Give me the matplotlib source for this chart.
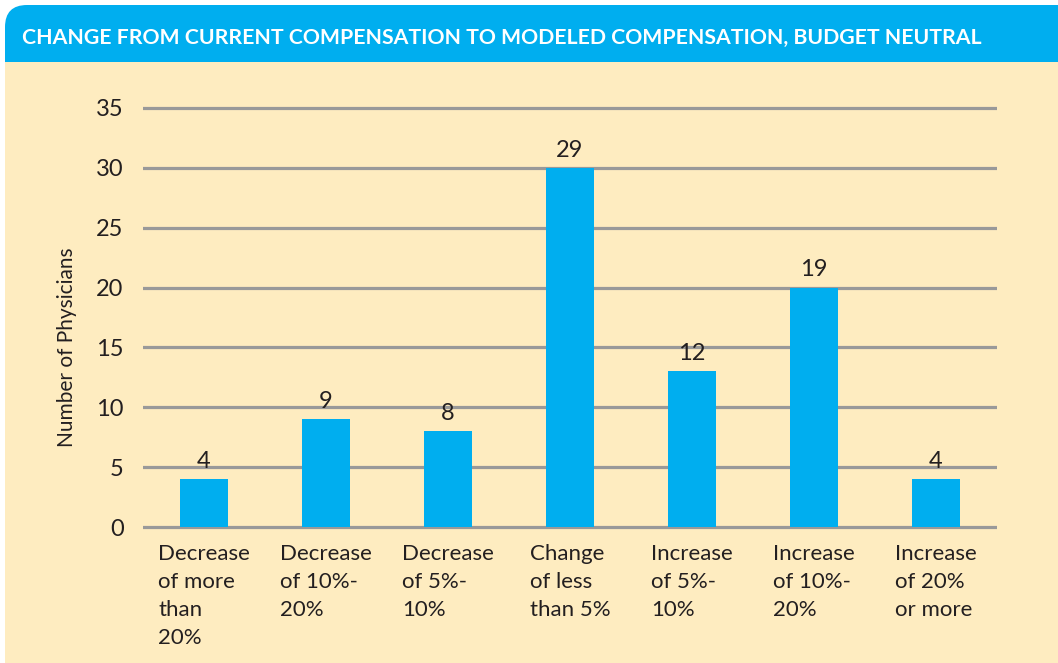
import matplotlib.pyplot as plt
from matplotlib.patches import FancyBboxPatch, Rectangle
from matplotlib.transforms import IdentityTransform

plt.rcParams['font.family'] = ['Lato', 'DejaVu Sans']

# data
categories = ['Decrease\nof more\nthan\n20%', 'Decrease\nof 10%-\n20%', 'Decrease\nof 5%-\n10%',
              'Change\nof less\nthan 5%', 'Increase\nof 5%-\n10%', 'Increase\nof 10%-\n20%',
              'Increase\nof 20%\nor more']
bar_heights = [4, 9, 8, 30, 13, 20, 4]      # heights the bars are drawn at
value_labels = [4, 9, 8, 29, 12, 19, 4]     # numbers printed over the bars
yticks = [0, 5, 10, 15, 20, 25, 30, 35]

blue = '#00AEEF'
cream = '#FEECC0'
grey = '#999999'
W, H = 1058, 663

fig = plt.figure(figsize=(W / 100, H / 100), dpi=100)
fig.patch.set_facecolor('white')

# header band with rounded top corners, cream panel over its lower part
header = FancyBboxPatch((5, H - 90), W + 40, 85, boxstyle='round,pad=0,rounding_size=22',
                        transform=IdentityTransform(), facecolor=blue, edgecolor='none', zorder=-2)
fig.add_artist(header)
panel = Rectangle((5, 0), W, H - 62, transform=IdentityTransform(),
                  facecolor=cream, edgecolor='none', zorder=-1)
fig.add_artist(panel)
fig.text(22 / W, 1 - 38 / H, 'CHANGE FROM CURRENT COMPENSATION TO MODELED COMPENSATION, BUDGET NEUTRAL',
         color='white', fontsize=15.3, fontweight='bold', ha='left', va='center')

# axes: y=0 at 527px, y=35 at 108px, x from 143 to 997px
ppu = (527 - 108) / 35
lo, hi = -0.3, 35.3
bottom = (H - 527 - 0.3 * ppu) / H
height = (hi - lo) * ppu / H
ax = fig.add_axes([143 / W, bottom, (997 - 143) / W, height])
ax.patch.set_alpha(0)

x = range(len(categories))
ax.bar(x, bar_heights, width=0.4, color=blue, zorder=3)
for i, (h, v) in enumerate(zip(bar_heights, value_labels)):
    ax.annotate(str(v), (i, h), xytext=(0, 8), textcoords='offset points',
                ha='center', va='baseline', fontsize=17, color='#231F20')

ax.set_xlim(-0.5, 6.5)
ax.set_ylim(lo, hi)
ax.set_yticks(yticks)
ax.yaxis.grid(True, color=grey, linewidth=2.3)
ax.set_axisbelow(True)
for s in ax.spines.values():
    s.set_visible(False)

ax.set_xticks(list(x))
ax.set_xticklabels(categories, fontsize=16, color='#231F20', linespacing=1.5)
for t in ax.get_xticklabels():
    t.set_multialignment('left')
ax.tick_params(axis='x', length=0, pad=10)
ax.tick_params(axis='y', length=0, pad=14, labelsize=17, labelcolor='#231F20')

ax.set_ylabel('Number of Physicians', fontsize=15, color='#231F20')
ax.yaxis.set_label_coords((67 - 143) / 854, ((527 - 347) / ppu - lo) / (hi - lo))
ax.yaxis.label.set_va('center')

fig.savefig('out.png', dpi=100)
